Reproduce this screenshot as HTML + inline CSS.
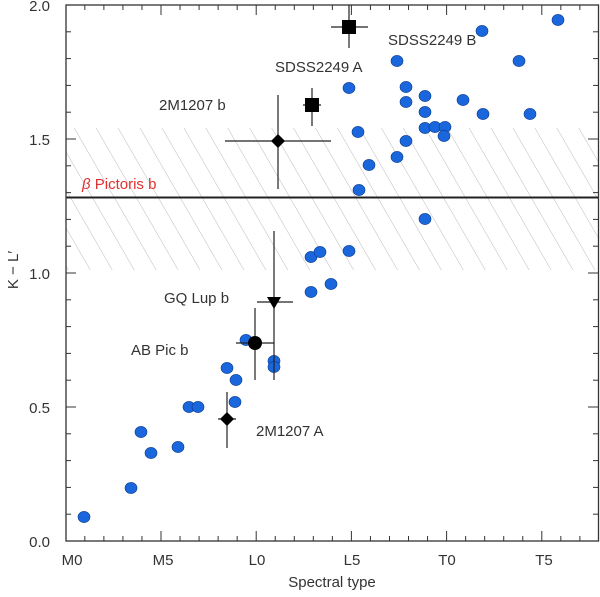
<!DOCTYPE html><html><head><meta charset="utf-8"><style>body{margin:0;background:#fff}svg{display:block}text{font-family:"Liberation Sans",sans-serif;fill:#333;font-size:15px}</style></head><body>
<svg width="600" height="597" viewBox="0 0 600 597">
<defs><pattern id="h" width="19" height="19" patternUnits="userSpaceOnUse" patternTransform="rotate(-30)"><line x1="0" y1="0" x2="0" y2="19" stroke="#aaa" stroke-width="0.8"/></pattern><clipPath id="c"><rect x="66" y="5" width="533" height="536"/></clipPath></defs>
<rect x="66" y="128" width="533" height="142" fill="url(#h)" clip-path="url(#c)"/>
<line x1="66" y1="197.5" x2="599" y2="197.5" stroke="#222" stroke-width="2"/>
<g id="ticks" stroke="#333" stroke-width="1"></g>
<rect x="66" y="5" width="532.5" height="536" fill="none" stroke="#333" stroke-width="1.3"/>
<g fill="#1a66dd" stroke="#0a3a88" stroke-width="0.6" id="pts"></g>
<g stroke="#222" stroke-width="1.2">
<line x1="331" y1="27" x2="368" y2="27"/><line x1="349" y1="5" x2="349" y2="48"/>
<line x1="303" y1="105" x2="321" y2="105"/><line x1="312" y1="88" x2="312" y2="126"/>
<line x1="225" y1="141" x2="331" y2="141"/><line x1="278" y1="95" x2="278" y2="189"/>
<line x1="257" y1="302" x2="293" y2="302"/><line x1="274" y1="231" x2="274" y2="380"/>
<line x1="236" y1="343" x2="274" y2="343"/><line x1="255" y1="308" x2="255" y2="380"/>
<line x1="218" y1="419" x2="236" y2="419"/><line x1="227" y1="392" x2="227" y2="448"/>
</g>
<g fill="#000">
<rect x="342" y="20" width="14" height="14"/><rect x="305" y="98" width="14" height="14"/>
<polygon points="278,134 285,141 278,148 271,141"/><polygon points="267,297 281,297 274,309"/>
<circle cx="255" cy="343" r="7"/><polygon points="227,412 234,419 227,426 220,419"/>
</g>
<text x="388" y="45">SDSS2249 B</text><text x="275" y="72">SDSS2249 A</text><text x="159" y="110">2M1207 b</text>
<text x="82" y="189" style="fill:#e03030"><tspan font-style="italic">β</tspan> Pictoris b</text>
<text x="164" y="303">GQ Lup b</text><text x="131" y="355">AB Pic b</text><text x="256" y="436">2M1207 A</text>
<g text-anchor="end"><text x="50" y="11">2.0</text><text x="50" y="145">1.5</text><text x="50" y="279">1.0</text><text x="50" y="413">0.5</text><text x="50" y="547">0.0</text></g>
<g text-anchor="middle"><text x="72" y="565">M0</text><text x="163" y="565">M5</text><text x="257" y="565">L0</text><text x="352" y="565">L5</text><text x="447" y="565">T0</text><text x="544" y="565">T5</text><text x="332" y="587">Spectral type</text></g>
<text transform="translate(18,270) rotate(-90)" text-anchor="middle">K − L′</text>
</svg>
<script>
var t=document.getElementById('ticks'),s='';
for(var i=1;i<28;i++){var x=65.8+19.04*i,L=i%5==0?10:5;s+='<line x1="'+x+'" y1="541" x2="'+x+'" y2="'+(541-L)+'"/><line x1="'+x+'" y1="5" x2="'+x+'" y2="'+(5+L)+'"/>';}
for(var j=1;j<20;j++){var y=541-26.8*j,L=j%5==0?10:5;s+='<line x1="66" y1="'+y+'" x2="'+(66+L)+'" y2="'+y+'"/><line x1="598" y1="'+y+'" x2="'+(598-L)+'" y2="'+y+'"/>';}
t.innerHTML=s;
var p=[[84,517],[131,488],[141,432],[151,453],[178,447],[189,407],[198,407],[227,368],[235,402],[236,380],[246,340],[274,361],[274,367],[311,257],[320,252],[331,284],[311,292],[349,251],[349,88],[358,132],[359,190],[369,165],[397,157],[397,61],[406,87],[406,102],[406,141],[425,96],[425,128],[425,112],[425,219],[435,127],[445,127],[444,136],[463,100],[482,31],[483,114],[519,61],[530,114],[558,20]],q='';
p.forEach(function(a){q+='<ellipse cx="'+a[0]+'" cy="'+a[1]+'" rx="6" ry="5.6"/>';});
document.getElementById('pts').innerHTML=q;
</script>
</body></html>
